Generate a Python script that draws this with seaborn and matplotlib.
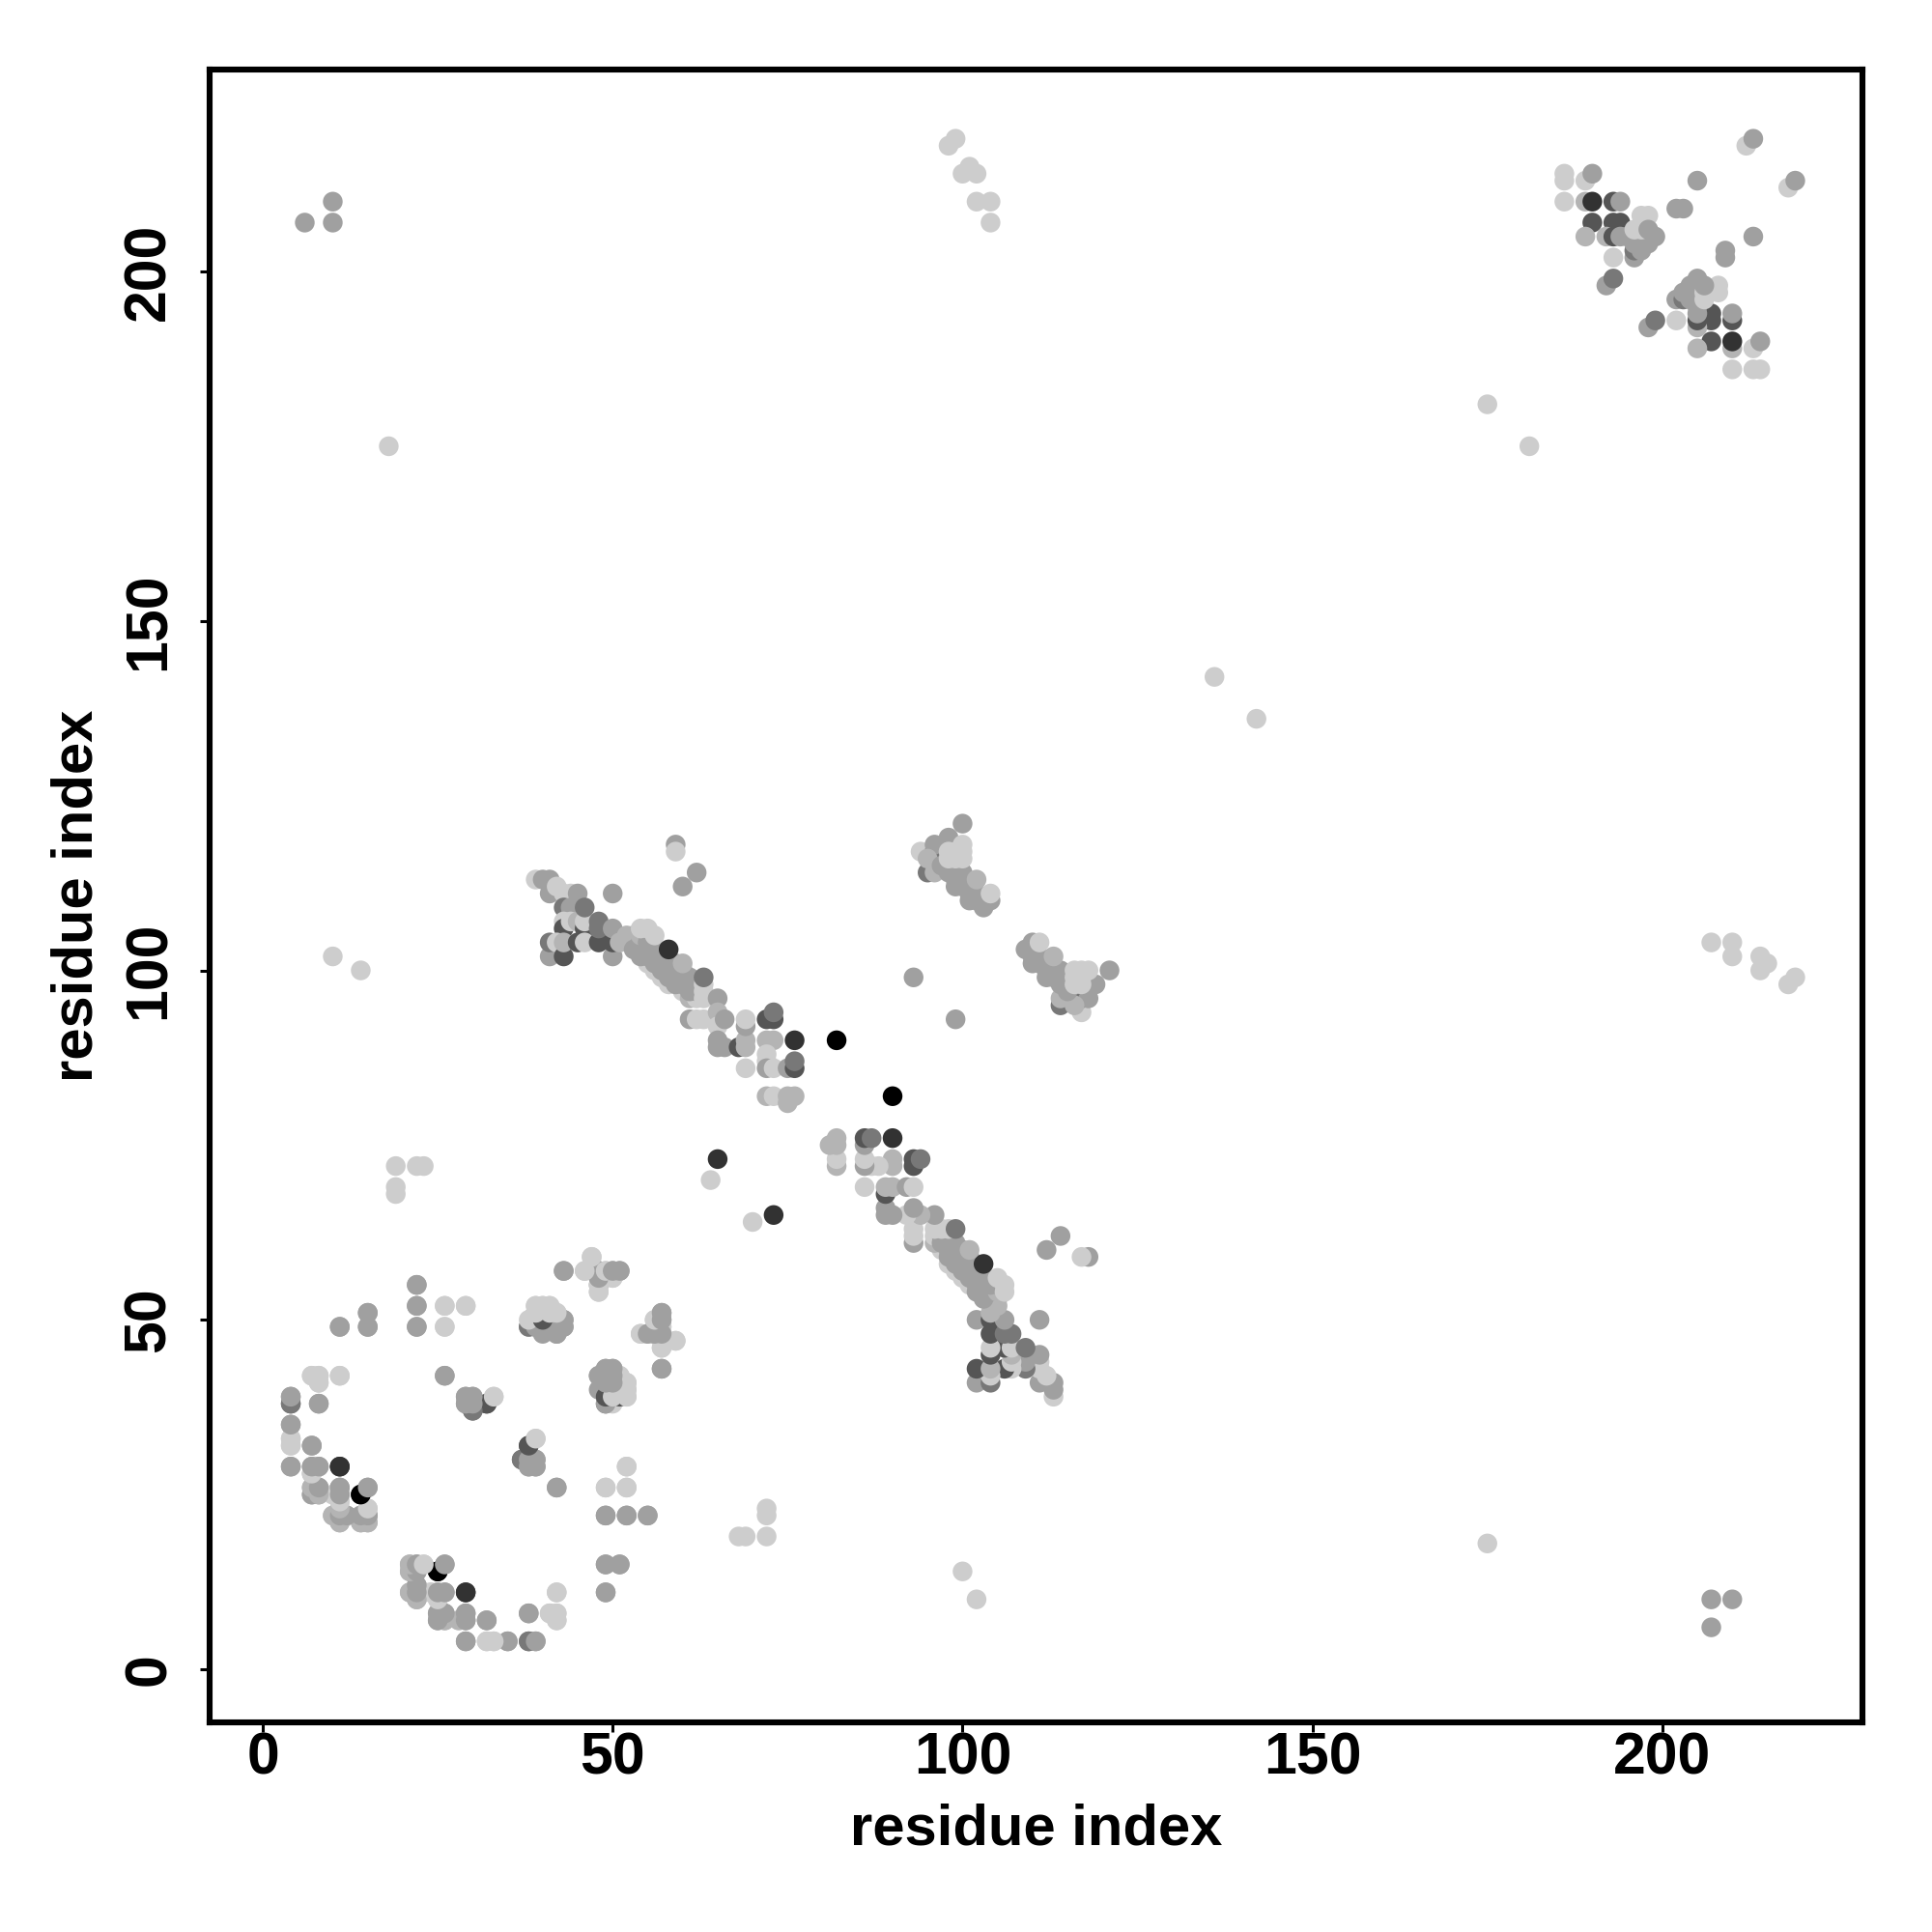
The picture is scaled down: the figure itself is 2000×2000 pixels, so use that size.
import matplotlib
matplotlib.use("Agg")
import matplotlib.pyplot as plt
import pandas as pd
import seaborn as sns

# contacts as (residue i, residue j, strength), only i < j, the map is symmetric
# strength 1 is the weakest (lightest), 7 the strongest (black)
isolated = [
    (6, 207, 3), (10, 207, 3), (10, 210, 3),
    (98, 218, 1), (99, 219, 1), (100, 214, 1), (101, 215, 1), (102, 214, 1),
    (102, 210, 1), (104, 210, 1), (104, 207, 1),
    (18, 175, 1), (175, 181, 1), (136, 142, 1), (10, 102, 1), (14, 100, 1),
    (19, 72, 1), (19, 69, 1), (19, 68, 1), (22, 72, 1), (23, 72, 1),
    (64, 70, 1), (65, 73, 6), (82, 90, 7), (93, 99, 3),
    (59, 118, 3), (59, 117, 1), (62, 114, 3), (60, 112, 3), (50, 111, 3),
]

low_ring = [
    (11, 49, 3), (15, 51, 3), (15, 49, 3), (22, 55, 3), (22, 52, 3), (22, 49, 3),
    (26, 52, 1), (29, 52, 1), (26, 49, 1), (26, 42, 3),
    (8, 41, 1), (7, 42, 1), (8, 42, 1), (11, 42, 1),
    (4, 38, 4), (4, 39, 3), (8, 38, 3), (4, 35, 3), (4, 33, 1), (4, 32, 1), (7, 32, 3),
    (4, 29, 3), (7, 28, 2), (7, 29, 3), (8, 29, 3), (11, 29, 6),
    (7, 26, 2), (7, 25, 3), (8, 25, 3), (8, 26, 3), (10, 25, 1), (11, 24, 1), (11, 25, 3), (11, 26, 3),
    (14, 25, 7), (15, 26, 3),
    (10, 22, 2), (11, 21, 2), (11, 22, 3), (12, 22, 3), (14, 21, 2), (14, 22, 3),
    (15, 21, 2), (15, 22, 3), (15, 23, 1),
    (21, 15, 2), (21, 14, 2), (22, 15, 3), (22, 14, 3), (23, 15, 1), (25, 14, 7), (26, 15, 3),
    (21, 11, 2), (22, 10, 2), (22, 12, 3), (22, 11, 3), (23, 11, 2), (24, 11, 1),
    (25, 10, 1), (25, 11, 3), (26, 11, 3), (29, 11, 6), (42, 11, 1),
    (25, 7, 3), (25, 8, 2), (26, 7, 2), (26, 8, 3), (28, 7, 1), (29, 8, 3), (29, 7, 3),
    (32, 7, 3), (38, 8, 3), (41, 8, 1), (42, 8, 1), (42, 7, 1),
    (29, 4, 3), (32, 4, 1), (33, 4, 1), (35, 4, 3), (38, 4, 4), (39, 4, 3),
    (30, 37, 4), (29, 38, 3), (30, 38, 3), (29, 39, 3), (30, 39, 3), (32, 38, 5), (33, 39, 1),
    (38, 32, 5), (39, 33, 1), (37, 30, 4), (38, 29, 3), (38, 30, 3), (39, 30, 3), (39, 29, 3),
    (42, 26, 3), (52, 29, 1), (49, 26, 1), (52, 26, 1), (49, 22, 3), (52, 22, 3), (55, 22, 3),
    (49, 15, 3), (51, 15, 3), (49, 11, 3),
]

low_helix = [
    (43, 57, 3), (46, 57, 1), (47, 59, 1), (49, 57, 1), (48, 54, 1), (48, 55, 3), (48, 56, 3),
    (48, 57, 3), (50, 56, 1), (50, 57, 3), (51, 57, 3),
    (38, 49, 3), (39, 49, 5), (39, 51, 5), (39, 52, 1), (40, 52, 1), (41, 52, 1), (39, 50, 1),
    (40, 51, 1), (41, 51, 1), (42, 51, 1), (41, 49, 3), (42, 49, 3), (42, 48, 3), (41, 50, 3), (42, 50, 3),
    (43, 49, 3), (43, 50, 3),
    (54, 48, 1), (55, 48, 1), (56, 50, 1), (56, 48, 3), (57, 48, 3), (57, 49, 1), (57, 50, 3), (57, 51, 3),
    (59, 47, 1), (57, 46, 1), (57, 43, 3),
    (49, 38, 4), (49, 39, 3), (48, 40, 3), (50, 38, 1), (48, 42, 3), (49, 41, 3), (49, 42, 3),
    (49, 43, 3), (50, 43, 3), (50, 41, 3), (50, 40, 5), (51, 39, 1), (52, 39, 1), (51, 41, 1),
    (52, 41, 1), (51, 42, 1), (52, 40, 1),
]

sheet_a = [
    (41, 102, 3), (41, 104, 4), (41, 111, 3), (39, 113, 1), (40, 113, 3), (41, 113, 3), (42, 112, 1),
    (43, 111, 1), (44, 111, 1), (45, 111, 3), (43, 109, 4), (44, 109, 3), (44, 108, 3), (43, 107, 1), (43, 106, 5),
    (44, 107, 1), (45, 107, 2), (46, 106, 5), (46, 107, 1), (46, 109, 4), (42, 104, 1), (43, 102, 5),
    (43, 104, 2), (45, 104, 5), (46, 104, 1), (48, 104, 5), (48, 106, 4), (48, 107, 4), (50, 102, 3),
    (50, 104, 5), (50, 106, 3), (51, 104, 2), (52, 105, 2), (53, 105, 2),
    (55, 101, 1), (56, 100, 1), (57, 99, 1), (58, 98, 1), (60, 97, 1), (61, 96, 2), (62, 96, 1),
    (53, 104, 2), (53, 103, 3), (54, 102, 3), (54, 103, 3), (54, 104, 3), (54, 105, 2),
    (55, 102, 3), (55, 103, 3), (55, 104, 3), (56, 101, 3), (56, 102, 3), (56, 103, 3),
    (57, 100, 3), (57, 101, 3), (57, 102, 3), (58, 99, 3), (58, 100, 3), (58, 101, 3),
    (59, 98, 3), (59, 99, 3), (59, 100, 3), (59, 101, 3), (60, 98, 3), (60, 99, 3), (60, 100, 3),
    (61, 97, 3), (61, 98, 3), (61, 99, 3), (62, 97, 3), (62, 98, 3),
    (54, 106, 1), (55, 106, 1), (56, 105, 1), (58, 103, 6), (60, 101, 2),
    (63, 96, 1), (63, 97, 1), (63, 98, 1), (63, 99, 4), (65, 96, 3),
    (61, 93, 3), (62, 93, 1), (63, 93, 1), (65, 94, 2), (65, 92, 1), (66, 93, 3), (65, 90, 3), (65, 89, 3),
    (66, 89, 3), (68, 89, 5), (69, 89, 2), (69, 90, 2), (69, 92, 3), (69, 93, 1),
    (72, 93, 5), (73, 93, 5), (73, 94, 4), (72, 90, 2), (73, 90, 2), (76, 90, 6),
    (69, 86, 1), (72, 88, 1), (72, 87, 1), (72, 86, 3), (73, 86, 1), (75, 86, 3), (76, 86, 5), (76, 87, 4),
    (72, 82, 2), (73, 82, 1), (75, 81, 2), (75, 82, 2), (76, 82, 2),
]

sheet_b = [
    (94, 117, 1), (96, 117, 4), (96, 118, 3), (98, 119, 3), (100, 121, 3), (95, 114, 4), (96, 114, 2),
    (95, 116, 2), (97, 115, 3), (98, 114, 3), (99, 114, 3), (100, 114, 3), (98, 117, 1), (99, 117, 1),
    (100, 118, 1), (100, 117, 1), (98, 116, 1), (99, 116, 1), (100, 116, 1),
    (99, 112, 3), (100, 112, 3), (99, 113, 3), (100, 113, 3), (101, 112, 3), (101, 111, 3), (101, 110, 3),
    (102, 110, 3), (102, 111, 3), (102, 113, 2),
    (103, 109, 3), (103, 110, 3), (104, 110, 3), (104, 111, 1),
]

top_right = [
    (186, 214, 1), (186, 213, 1), (186, 210, 1), (189, 213, 1), (190, 214, 3), (189, 210, 2), (190, 210, 6),
    (193, 210, 5), (194, 210, 3), (190, 207, 5), (193, 207, 5), (194, 207, 5), (189, 205, 2), (192, 205, 2),
    (193, 205, 5), (194, 205, 3), (193, 202, 1), (192, 198, 3), (193, 199, 4),
    (196, 202, 3), (196, 203, 4), (196, 204, 3), (197, 203, 3), (195, 205, 3), (198, 204, 3), (196, 206, 1),
    (197, 206, 1), (197, 208, 1), (198, 208, 1), (198, 206, 3), (199, 205, 3),
    (202, 209, 3), (203, 209, 3), (205, 213, 3), (212, 218, 1), (213, 219, 3),
]

# grey for each strength
shades = {1: "#cdcdcd", 2: "#b4b4b4", 3: "#a0a0a0", 4: "#787878", 5: "#555555", 6: "#323232", 7: "#000000"}
x_ticks = [0, 50, 100, 150, 200]
y_ticks = [0, 50, 100, 150, 200]


def main():
    sns.set_theme(style="white")
    plt.rcParams["font.family"] = ["Liberation Sans", "DejaVu Sans"]

    rows = isolated + low_ring + low_helix + sheet_a + sheet_b + top_right
    half = pd.DataFrame(rows, columns=["i", "j", "strength"])
    mirror = half.rename(columns={"i": "j", "j": "i"})
    contacts = pd.concat([half, mirror], ignore_index=True)

    fig = plt.figure(figsize=(10, 10), dpi=200)
    ax = fig.add_axes([0.1085, 0.1085, 0.8555, 0.8555])
    sns.scatterplot(data=contacts, x="i", y="j", hue="strength", palette=shades,
                    s=54, linewidth=0, legend=False, ax=ax)

    ax.set_xlim(-7.6, 228.6)
    ax.set_ylim(-7.6, 228.9)
    ax.set_xticks(x_ticks)
    ax.set_yticks(y_ticks)
    ax.set_xlabel("residue index", fontsize=21.5, fontweight="bold", color="black", labelpad=6)
    ax.set_ylabel("residue index", fontsize=21.5, fontweight="bold", color="black", labelpad=7)
    ax.tick_params(axis="x", length=3.5, width=1.1, color="black", bottom=True, pad=0)
    ax.tick_params(axis="y", length=3.5, width=1.1, color="black", left=True, pad=8.5)
    for lab in ax.get_xticklabels():
        lab.set_fontsize(21.9)
        lab.set_fontweight("bold")
        lab.set_color("black")
    for lab in ax.get_yticklabels():
        lab.set_fontsize(21.9)
        lab.set_fontweight("bold")
        lab.set_color("black")
        lab.set_rotation(90)
        lab.set_va("center")
    for sp in ax.spines.values():
        sp.set_color("black")
        sp.set_linewidth(2.2)

    fig.savefig("out.png", dpi=200, facecolor="white")


if __name__ == "__main__":
    main()
